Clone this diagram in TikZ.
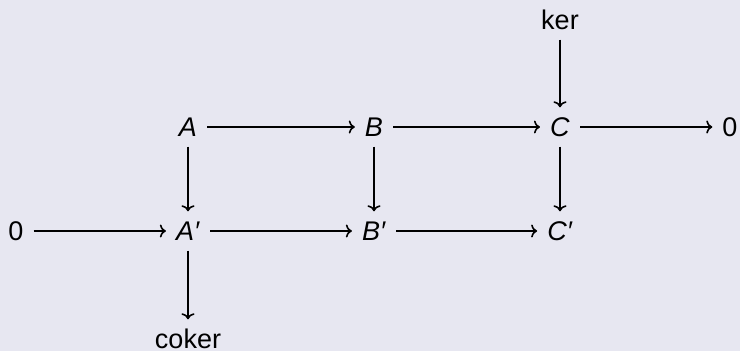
\documentclass[tikz,border=0pt]{standalone}
\usepackage{fontspec}
\setmainfont{Liberation Sans}
\usetikzlibrary{arrows.meta}
\definecolor{bg}{RGB}{231,231,241}
\begin{document}
\begin{tikzpicture}[x=1pt,y=1pt,
  obj/.style={inner xsep=10pt, inner ysep=10pt, text height=19pt, text depth=0pt, font=\fontsize{27}{30}\selectfont},
  arr/.style={-{To[length=6pt,width=13pt]}, line width=1.6pt}]
\useasboundingbox (0,0) rectangle (740,351);
\fill[bg] (0,0) rectangle (740,351);
\node[obj] (A)  at (188,224) {\textit{A}};
\node[obj] (B)  at (374,224) {\textit{B}};
\node[obj] (C)  at (560,224) {\textit{C}};
\node[obj] (Z1) at (730,224) {0};
\node[obj] (Z0) at (16,120) {0};
\node[obj] (Ap) at (188,120) {\textit{A′}};
\node[obj] (Bp) at (374,120) {\textit{B′}};
\node[obj] (Cp) at (560,120) {\textit{C′}};
\node[obj] (ker) at (560,331) {ker};
\node[obj, inner ysep=0pt, text height=19pt, text depth=0pt] (coker) at (188,12) {coker};
\draw[arr] (A) -- (B);
\draw[arr] (B) -- (C);
\draw[arr] (C) -- (Z1);
\draw[arr] (Z0) -- (Ap);
\draw[arr] (Ap) -- (Bp);
\draw[arr] (Bp) -- (Cp);
\draw[arr] (A) -- (Ap);
\draw[arr] (B) -- (Bp);
\draw[arr] (C) -- (Cp);
\draw[arr] (ker) -- (C);
\draw[arr, shorten >=10pt] (Ap) -- (coker);
\end{tikzpicture}
\end{document}
